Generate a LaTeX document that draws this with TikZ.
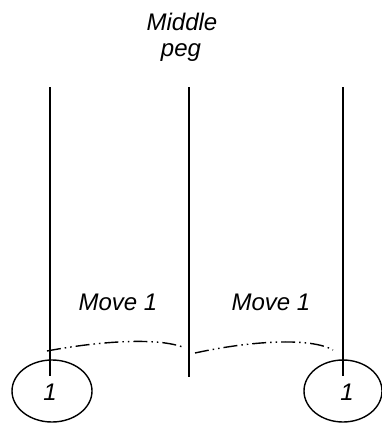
\documentclass[tikz,border=0pt]{standalone}
\usepackage{fontspec}
\usetikzlibrary{shapes.geometric}
\setmainfont{Liberation Sans}
\begin{document}
\begin{tikzpicture}[x=1pt,y=-1pt,
  peg/.style={line width=1.4pt},
  lbl/.style={font=\fontsize{24}{28}\selectfont\itshape, inner sep=0pt, anchor=base},
  disc/.style={draw, line width=1.4pt, ellipse, minimum width=80pt, minimum height=62pt, inner sep=0pt},
  mv/.style={line width=1.4pt, dash pattern=on 14pt off 4pt on 1.5pt off 4pt on 1.5pt off 4pt}]
\useasboundingbox (0,0) rectangle (382,423);
\coordinate (lt) at (50,87);
\coordinate (lb) at (50,376);
\coordinate (mt) at (189,87);
\coordinate (mb) at (189,377);
\coordinate (rt) at (343,87);
\coordinate (rb) at (343,376);
\draw[peg] (lt) -- (lb);
\draw[peg] (mt) -- (mb);
\draw[peg] (rt) -- (rb);
\node[disc] (d1) at (52,391) {};
\node[disc, minimum width=78pt] (d2) at (343,391) {};
\node[lbl] (n1) at (50,400) {1};
\node[lbl] (n2) at (347,400) {1};
\node[lbl] (mid) at (182,30) {Middle};
\node[lbl] (peg) at (181,56) {peg};
\node[lbl] (m1) at (118,310) {Move 1};
\node[lbl] (m2) at (271,310) {Move 1};
\coordinate (a1) at (47,351);
\coordinate (a2) at (185,348);
\coordinate (b1) at (195,353);
\coordinate (b2) at (333,350);
\draw[mv] (a1) .. controls (100,341) and (160,337) .. (a2);
\draw[mv] (b1) .. controls (250,341) and (310,337) .. (b2);
\end{tikzpicture}
\end{document}
